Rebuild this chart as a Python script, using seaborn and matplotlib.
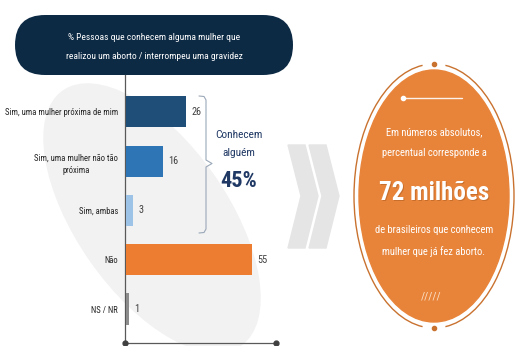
import matplotlib
matplotlib.use("Agg")
import matplotlib.pyplot as plt
import seaborn as sns
import pandas as pd
from matplotlib import font_manager
from matplotlib.patches import FancyBboxPatch, Ellipse, Polygon, Arc

# ---------------- data ----------------
categories = ["Sim, uma mulher próxima de mim",
              "Sim, uma mulher não tão\npróxima",
              "Sim, ambas",
              "Não",
              "NS / NR"]
values = [26, 16, 3, 55, 1]
bar_colors = ["#1f4e79", "#2e75b6", "#9dc3e6", "#ed7d31", "#8c8c8c"]
title_text = "% Pessoas que conhecem alguma mulher que\nrealizou um aborto / interrompeu uma gravidez"
bracket_label = "Conhecem\nalguém"
bracket_value = "45%"
circle_top = ["Em números absolutos,", "percentual corresponde a"]
circle_big = "72 milhões"
circle_bottom = ["de brasileiros que conhecem", "mulher que já fez aborto."]

# ---------------- fonts ----------------
sns.set_theme(style="white")
names = {f.name for f in font_manager.fontManager.ttflist}
FONT = "DejaVu Sans"
for cand in ["Liberation Sans Narrow", "Roboto Condensed", "Open Sans Condensed",
             "Liberation Sans"]:
    if cand in names:
        FONT = cand
        break
plt.rcParams['font.family'] = [FONT, 'DejaVu Sans']

W, H = 520, 346
fig = plt.figure(figsize=(5.2, 3.46), dpi=100)
fig.patch.set_facecolor("white")

# background layer in pixel coordinates (y down)
bg = fig.add_axes([0, 0, 1, 1])
bg.set_xlim(0, W)
bg.set_ylim(H, 0)
bg.axis("off")

# faint tilted ellipse behind the bars
bg.add_patch(Ellipse((152, 218), 150, 310, angle=-35, color="#f2f2f2", zorder=0))

# chevrons
for dx in (0, 21):
    pts = [(288 + dx, 145), (305 + dx, 145), (318 + dx, 196),
           (305 + dx, 248), (288 + dx, 248), (301 + dx, 196)]
    bg.add_patch(Polygon(pts, closed=True, color="#e5e5e5", zorder=0))

# title pill
bg.add_patch(FancyBboxPatch((15, 15), 278, 60,
                            boxstyle="round,pad=0,rounding_size=30",
                            fc="#0d2a45", ec="none", zorder=2))
bg.text(154, 47, title_text, ha="center", va="center", color="white",
        fontsize=6.8, linespacing=2.3, zorder=3)

# orange circle
cx, cy = 434, 196
bg.add_patch(Ellipse((cx, cy), 150, 252, color="#e8843a", zorder=1))
bg.add_patch(Arc((cx, cy), 160, 264, theta1=95, theta2=265,
                 color="#c9722f", lw=1.0, zorder=1))
bg.add_patch(Arc((cx, cy), 160, 264, theta1=275, theta2=445,
                 color="#c9722f", lw=1.0, zorder=1))
bg.plot([cx, cx], [cy - 132, cy + 132], ls="none", marker="o", ms=3,
        color="#c9722f", zorder=2)
bg.plot([403, 462], [98, 98], color="white", lw=1.0, alpha=0.9, zorder=2)
bg.plot([403], [98], marker="o", ms=3, color="white", zorder=2)

for i, t in enumerate(circle_top):
    bg.text(cx, 132 + 21 * i, t, ha="center", va="center", color="white",
            fontsize=7.6, zorder=3)
bg.text(cx + 1, 193 + 1, circle_big, ha="center", va="center", color="#a85a20",
        fontsize=18, fontweight="bold", alpha=0.5, zorder=3)
bg.text(cx, 193, circle_big, ha="center", va="center", color="white",
        fontsize=18, fontweight="bold", zorder=3)
for i, t in enumerate(circle_bottom):
    bg.text(cx, 230 + 22 * i, t, ha="center", va="center", color="white",
            fontsize=7.6, zorder=3)
bg.text(cx - 3, 297, "/////", ha="center", va="center", color="#fbe3cc",
        fontsize=8, zorder=3)

# brace
bx = 206
brace = [(199, 96), (204, 96.5), (bx, 100), (bx, 160), (212, 163.5),
         (bx, 167), (bx, 229), (204, 232.5), (199, 233)]
bg.plot([p[0] for p in brace], [p[1] for p in brace], color="#9aa8b8",
        lw=0.8, zorder=2)
bg.text(239, 144, bracket_label, ha="center", va="center", color="#1f3864",
        fontsize=8.2, linespacing=2.0, zorder=3)
bg.text(239, 181, bracket_value, ha="center", va="center", color="#1f3864",
        fontsize=16, fontweight="bold", zorder=3)

# ---------------- bar chart ----------------
X0, X1 = -0.6, 65.4
ax = fig.add_axes([125 / W, (H - 343) / H, 151 / W, (343 - 75) / H])
ax.patch.set_alpha(0)
df = pd.DataFrame({"cat": categories, "val": values})
sns.barplot(data=df, x="val", y="cat", hue="cat", palette=bar_colors,
            legend=False, orient="h", width=0.63, ax=ax, saturation=1,
            edgecolor="none", linewidth=0)
ax.set_xlim(X0, X1)
ax.set_ylim(4.69, -0.75)
ax.set_xlabel("")
ax.set_ylabel("")
ax.set_xticks([])
for side in ("top", "right"):
    ax.spines[side].set_visible(False)
for side in ("left", "bottom"):
    ax.spines[side].set_color("#595959")
    ax.spines[side].set_linewidth(0.9)
    ax.spines[side].set_zorder(0.5)
ax.tick_params(axis="y", length=0, pad=5, labelsize=6.2, labelcolor="#262626")
for lbl in ax.get_yticklabels():
    lbl.set_multialignment("center")
    lbl.set_linespacing(1.5)
for c in ax.containers:
    ax.bar_label(c, padding=4, fontsize=7.4, color="#404040")
ax.plot([X0, X1], [4.69, 4.69], ls="none", marker="o", ms=3.5,
        color="#404040", clip_on=False)

fig.savefig("out.png", dpi=100, facecolor="white")
